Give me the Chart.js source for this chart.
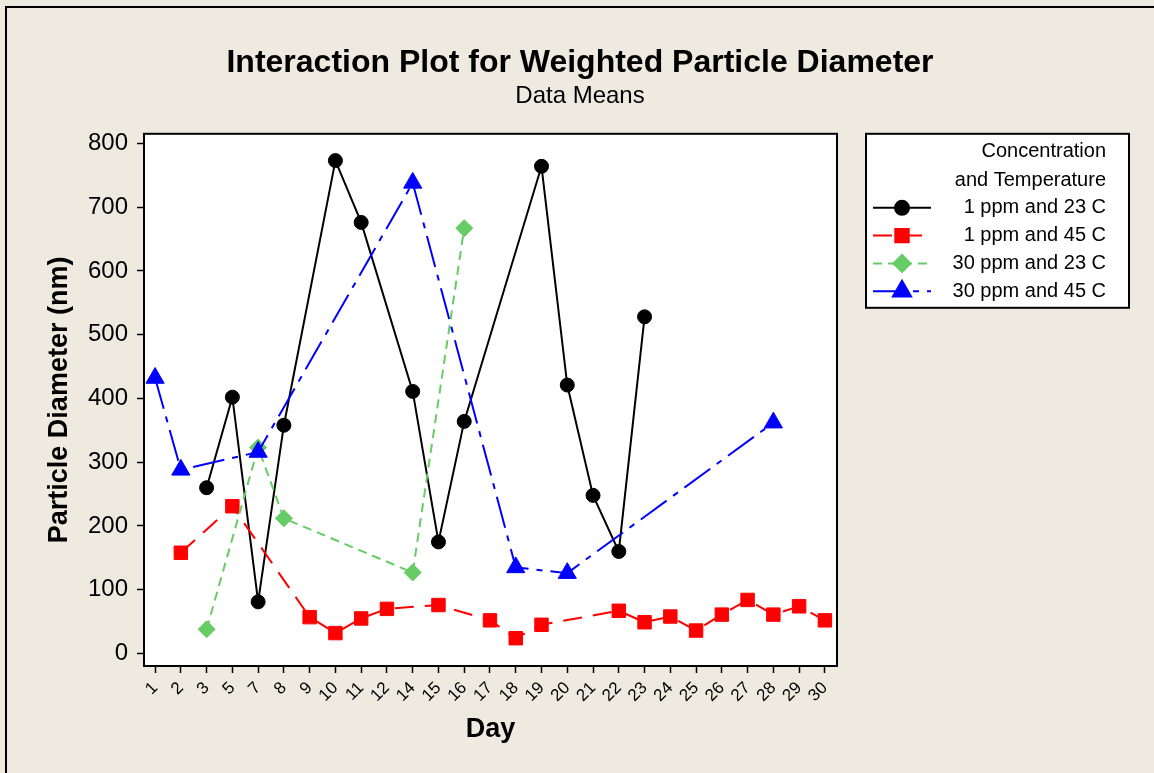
<!DOCTYPE html>
<html>
<head>
<meta charset="utf-8">
<title>Interaction Plot for Weighted Particle Diameter</title>
<script src="https://cdn.jsdelivr.net/npm/chart.js@4.4.1/dist/chart.umd.min.js"></script>
<style>
  html, body { margin: 0; padding: 0; background: #eeeae0; }
  #wrap { position: relative; width: 1154px; height: 773px; }
  canvas { display: block; }
</style>
</head>
<body>
<div id="wrap"><canvas id="chart" width="1154" height="773"></canvas></div>
<script>
// Sampling days (categorical x axis)
const days = [1, 2, 3, 5, 7, 8, 9, 10, 11, 12, 14, 15, 16, 17, 18, 19, 20, 21, 22, 23, 24, 25, 26, 27, 28, 29, 30];

// Mean weighted particle diameter (nm) per day; null = no measurement that day
const ppm1_23C  = [null, null, 260, 402, 81, 358, null, 773, 676, null, 411, 175, 364, null, null, 764, 421, 248, 160, 528, null, null, null, null, null, null, null];
const ppm1_45C  = [null, 158, null, 231, null, null, 57, 32, 55, 70, null, 76, null, 52, 24, 45, null, null, 67, 49, 58, 36, 61, 84, 61, 74, 52];
const ppm30_23C = [null, null, 38, null, 323, 212, null, null, null, null, 127, null, 667, null, null, null, null, null, null, null, null, null, null, null, null, null, null];
const ppm30_45C = [432, 288, null, null, 316, null, null, null, null, null, 738, null, null, null, 135, null, 126, null, null, null, null, null, null, null, 362, null, null];

const seriesLabels = ['1 ppm and 23 C', '1 ppm and 45 C', '30 ppm and 23 C', '30 ppm and 45 C'];
const legendHeading = ['Concentration', 'and Temperature'];
const yTickValues = [0, 100, 200, 300, 400, 500, 600, 700, 800];

const FONT = "'Liberation Sans', Arial, sans-serif";

function toPoints(values) {
  return values.map((v, i) => (v === null ? null : { x: i, y: v })).filter(Boolean);
}

// Page frame, white plotting area and box around it
const framePlugin = {
  id: 'frame',
  beforeDraw(chart) {
    const { ctx, chartArea: a } = chart;
    ctx.save();
    ctx.fillStyle = '#eeeae0';
    ctx.fillRect(0, 0, chart.width, chart.height);
    ctx.strokeStyle = '#000';
    ctx.lineWidth = 2;
    ctx.beginPath();
    ctx.moveTo(6, chart.height);
    ctx.lineTo(6, 7);
    ctx.lineTo(chart.width, 7);
    ctx.stroke();
    ctx.fillStyle = '#ffffff';
    ctx.fillRect(a.left, a.top, a.right - a.left, a.bottom - a.top);
    ctx.restore();
  },
  beforeDatasetsDraw(chart) {
    const { ctx, chartArea: a } = chart;
    ctx.save();
    ctx.strokeStyle = '#000';
    ctx.lineWidth = 2;
    ctx.strokeRect(a.left, a.top, a.right - a.left, a.bottom - a.top);
    ctx.restore();
  }
};

// Boxed legend to the right of the plot, text right-aligned
const boxLegendPlugin = {
  id: 'boxLegend',
  afterDraw(chart) {
    const { ctx, chartArea: a } = chart;
    const left = a.right + 29, top = a.top, right = left + 263, bottom = top + 174;
    ctx.save();
    ctx.fillStyle = '#ffffff';
    ctx.fillRect(left, top, right - left, bottom - top);
    ctx.strokeStyle = '#000';
    ctx.lineWidth = 2;
    ctx.strokeRect(left, top, right - left, bottom - top);

    ctx.fillStyle = '#000';
    ctx.font = '20px ' + FONT;
    ctx.textAlign = 'right';
    ctx.textBaseline = 'middle';
    const textX = right - 23;
    ctx.fillText(legendHeading[0], textX, top + 18);
    ctx.fillText(legendHeading[1], textX, top + 47);

    chart.data.datasets.forEach((ds, i) => {
      const y = top + 74 + i * 27.8;
      ctx.save();
      ctx.strokeStyle = ds.borderColor;
      ctx.lineWidth = ds.borderWidth;
      ctx.setLineDash(ds.borderDash || []);
      ctx.beginPath();
      ctx.moveTo(left + 7, y);
      ctx.lineTo(left + 65, y);
      ctx.stroke();
      ctx.setLineDash([]);
      ctx.fillStyle = ds.pointBackgroundColor;
      ctx.strokeStyle = ds.pointBorderColor;
      Chart.helpers.drawPoint(ctx, {
        pointStyle: ds.pointStyle,
        radius: ds.pointRadius,
        borderWidth: ds.pointBorderWidth,
        rotation: 0
      }, left + 36, y);
      ctx.restore();
      ctx.fillStyle = '#000';
      ctx.fillText(seriesLabels[i], textX, y);
    });
    ctx.restore();
  }
};

Chart.defaults.font.family = FONT;
Chart.defaults.color = '#000';

new Chart(document.getElementById('chart'), {
  type: 'line',
  data: {
    datasets: [
      {
        label: seriesLabels[0], data: toPoints(ppm1_23C), order: 4,
        borderColor: '#000000', borderWidth: 2, borderDash: [],
        pointStyle: 'circle', pointRadius: 7, pointBackgroundColor: '#000000', pointBorderColor: '#000000', pointBorderWidth: 1
      },
      {
        label: seriesLabels[1], data: toPoints(ppm1_45C), order: 3,
        borderColor: '#ff0000', borderWidth: 2, borderDash: [19, 11],
        pointStyle: 'rect', pointRadius: 9.5, pointBackgroundColor: '#ff0000', pointBorderColor: '#ff0000', pointBorderWidth: 1
      },
      {
        label: seriesLabels[2], data: toPoints(ppm30_23C), order: 2,
        borderColor: '#66cc66', borderWidth: 2, borderDash: [9, 6],
        pointStyle: 'rectRot', pointRadius: 8.5, pointBackgroundColor: '#66cc66', pointBorderColor: '#66cc66', pointBorderWidth: 1
      },
      {
        label: seriesLabels[3], data: toPoints(ppm30_45C), order: 1,
        borderColor: '#0000ff', borderWidth: 2, borderDash: [32, 8, 6, 8],
        pointStyle: 'triangle', pointRadius: 10.5, pointBackgroundColor: '#0000ff', pointBorderColor: '#0000ff', pointBorderWidth: 1
      }
    ]
  },
  options: {
    responsive: false,
    animation: false,
    events: [],
    layout: { padding: { left: 6, right: 0, top: 0, bottom: 0 } },
    elements: { line: { tension: 0, fill: false } },
    plugins: {
      legend: { display: false },
      tooltip: { enabled: false },
      title: {
        display: true,
        text: 'Interaction Plot for Weighted Particle Diameter',
        font: { family: FONT, size: 32, weight: 'bold', lineHeight: 1.2 },
        color: '#000',
        padding: { top: 44, bottom: 0 }
      },
      subtitle: {
        display: true,
        text: 'Data Means',
        font: { family: FONT, size: 24, weight: 'normal', lineHeight: 1.2 },
        color: '#000',
        padding: { top: 0, bottom: 22.6 }
      }
    },
    scales: {
      x: {
        type: 'linear',
        min: -0.43,
        max: 26.47,
        afterBuildTicks(scale) { scale.ticks = days.map((d, i) => ({ value: i })); },
        afterFit(scale) { scale.height = 107; },
        grid: { drawOnChartArea: false, drawTicks: true, tickLength: 7, color: '#000', tickWidth: 1.5 },
        border: { display: true, color: '#000', width: 2 },
        ticks: {
          autoSkip: false,
          minRotation: 45,
          maxRotation: 45,
          padding: 5,
          font: { family: FONT, size: 17 },
          color: '#000',
          callback: (v) => String(days[v])
        },
        title: {
          display: true,
          text: 'Day',
          font: { family: FONT, size: 27, weight: 'bold', lineHeight: 1.2 },
          color: '#000',
          padding: { top: 0, bottom: 27 }
        }
      },
      y: {
        type: 'linear',
        position: 'left',
        min: -19.6,
        max: 815,
        afterBuildTicks(scale) { scale.ticks = yTickValues.map((v) => ({ value: v })); },
        afterFit(scale) { scale.width = 138; },
        grid: { drawOnChartArea: false, drawTicks: true, tickLength: 7, color: '#000', tickWidth: 1.5 },
        border: { display: true, color: '#000', width: 2 },
        ticks: {
          padding: 9,
          font: { family: FONT, size: 24 },
          color: '#000'
        },
        title: {
          display: true,
          text: 'Particle Diameter (nm)',
          font: { family: FONT, size: 27, weight: 'bold', lineHeight: 1.2 },
          color: '#000',
          padding: { top: 37, bottom: 0 }
        }
      },
      // Empty right-hand band that holds the legend box
      legendSpace: {
        type: 'linear',
        position: 'right',
        display: true,
        afterBuildTicks(scale) { scale.ticks = []; },
        afterFit(scale) { scale.width = 317; },
        grid: { display: false, drawOnChartArea: false, drawTicks: false },
        border: { display: false },
        ticks: { display: false }
      }
    }
  },
  plugins: [framePlugin, boxLegendPlugin]
});
</script>
</body>
</html>
